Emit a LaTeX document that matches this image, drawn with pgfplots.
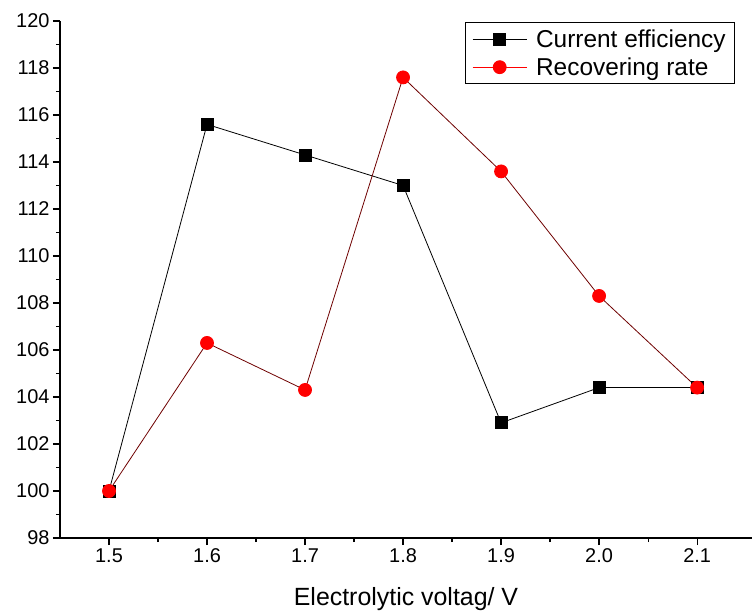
\documentclass[border=0pt]{standalone}
\usepackage{fontspec}
\setmainfont{Liberation Sans}
\usepackage{pgfplots}
\pgfplotsset{compat=1.18}
\definecolor{dkred}{RGB}{110,0,0}
\begin{document}
\begin{tikzpicture}
\begin{axis}[
  scale only axis, width=692bp, height=517bp,
  xmin=1.45, xmax=2.156, ymin=98, ymax=120,
  axis x line=bottom, axis y line=left,
  axis line style={-, line width=1.5bp},
  xtick={1.5,1.6,1.7,1.8,1.9,2.0,2.1},
  xticklabels={1.5,1.6,1.7,1.8,1.9,2.0,2.1},
  minor x tick num=1,
  ytick={98,100,...,120}, minor y tick num=1,
  tick align=outside,
  major tick length=7bp, minor tick length=4bp,
  tick style={line width=1.2bp, black},
  tick label style={font=\fontsize{20}{23}\selectfont},
  /pgf/number format/assume math mode=true,
  xlabel={Electrolytic voltag/ V},
  xlabel style={font=\fontsize{25}{30}\selectfont, yshift=-18bp},
  legend style={at={(0.9754,0.998)}, anchor=north east, font=\fontsize{24.5}{28}\selectfont, draw=black, line width=0.8bp, inner xsep=7bp, inner ysep=5bp, row sep=5bp,
    /tikz/every odd column/.append style={column sep=7bp}},
  legend cell align=left,
  legend image code/.code={\draw[mark repeat=2,mark phase=2] plot coordinates {(0bp,0bp) (27bp,0bp) (54bp,0bp)};},
  clip=false,
]
\coordinate (SW) at (rel axis cs:0,0);
\coordinate (NE) at (rel axis cs:1,1);
\addplot[black, line width=0.8bp, mark=square*, mark size=6bp, mark options={solid, fill=black}]
  coordinates {(1.5,100) (1.6,115.6) (1.7,114.3) (1.8,113.0) (1.9,102.9) (2.0,104.4) (2.1,104.4)};
\addlegendentry{Current efficiency}
\addplot[dkred, line width=0.8bp, mark=*, mark size=6.5bp, mark options={solid, fill=red, draw=red}, forget plot]
  coordinates {(1.5,100) (1.6,106.3) (1.7,104.3) (1.8,117.6) (1.9,113.6) (2.0,108.3) (2.1,104.4)};
\addlegendimage{red, line width=0.8bp, mark=*, mark size=6.5bp, mark options={solid, fill=red, draw=red}}
\addlegendentry{Recovering rate}
\end{axis}
\pgfresetboundingbox
\path ([xshift=-60bp,yshift=-76bp]SW) rectangle ([yshift=21bp]NE);
\end{tikzpicture}
\end{document}
